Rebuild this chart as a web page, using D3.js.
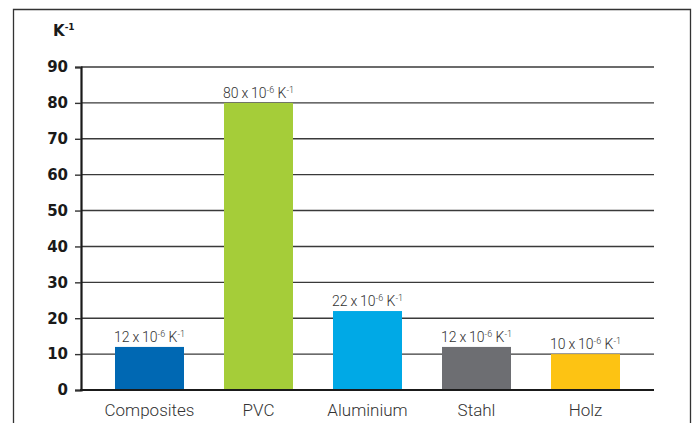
<!DOCTYPE html>
<html>
<head>
<meta charset="utf-8">
<script src="https://cdn.jsdelivr.net/npm/d3@7/dist/d3.min.js"></script>
<style>
  html, body { margin: 0; padding: 0; background: #fff; }
  svg { display: block; }
</style>
</head>
<body>
<svg id="chart" width="696" height="423"></svg>
<script>
// Thermal expansion coefficients (x 10^-6 K^-1)
const categories = ["Composites", "PVC", "Aluminium", "Stahl", "Holz"];
const values = [12, 80, 22, 12, 10];
const barColors = ["#0068b3", "#a5cd39", "#00a9e6", "#6d6e72", "#fdc313"];
const yTicks = [0, 10, 20, 30, 40, 50, 60, 70, 80, 90];

const svg = d3.select("#chart");

// outer frame
svg.append("path")
  .attr("d", "M13.5,430 L13.5,9.5 L690.5,9.5 L690.5,430")
  .attr("fill", "none")
  .attr("stroke", "#333")
  .attr("stroke-width", 1.3);

const y = d3.scaleLinear().domain([0, 90]).range([390, 67]);
const x = d3.scaleBand().domain(categories).range([95, 640])
  .paddingInner(0.367).paddingOuter(0.1835);

const axisLeft = 81, gridRight = 654;

// horizontal grid lines
svg.append("g").selectAll("line")
  .data(yTicks.filter(d => d > 0))
  .join("line")
  .attr("x1", axisLeft).attr("x2", gridRight)
  .attr("y1", d => y(d)).attr("y2", d => y(d))
  .attr("stroke", "#3a3a3a").attr("stroke-width", 1.4);

// y axis with outward ticks
const yAxis = d3.axisLeft(y).tickValues(yTicks).tickSize(6).tickPadding(7);
const gy = svg.append("g").attr("transform", `translate(${axisLeft},0)`).call(yAxis);
gy.select(".domain").attr("stroke", "#1a1a1a").attr("stroke-width", 2.2);
gy.selectAll(".tick line").attr("stroke", "#333").attr("stroke-width", 1.4);
gy.selectAll(".tick text")
  .attr("font-family", "DejaVu Sans, Verdana, sans-serif")
  .attr("font-weight", "bold")
  .attr("font-size", 15)
  .attr("fill", "#1a1a1a");

// bars
svg.append("g").selectAll("rect")
  .data(values)
  .join("rect")
  .attr("x", (d, i) => x(categories[i]))
  .attr("y", d => y(d))
  .attr("width", x.bandwidth())
  .attr("height", d => y(0) - y(d))
  .attr("fill", (d, i) => barColors[i]);

// baseline
svg.append("line")
  .attr("x1", axisLeft - 1).attr("x2", gridRight)
  .attr("y1", y(0)).attr("y2", y(0))
  .attr("stroke", "#1a1a1a").attr("stroke-width", 2.2);

const lightFont = "Roboto, 'Liberation Sans', sans-serif";

// value labels
const lbl = svg.append("g").selectAll("text")
  .data(values)
  .join("text")
  .attr("x", (d, i) => x(categories[i]) + x.bandwidth() / 2)
  .attr("y", d => y(d) - 5)
  .attr("text-anchor", "middle")
  .attr("font-family", lightFont)
  .attr("font-weight", 300)
  .attr("font-size", 14)
  .attr("fill", "#333");
lbl.append("tspan").text(d => d + "\u2009x\u200910");
lbl.append("tspan").attr("dy", -5).attr("font-size", 9).text("-6");
lbl.append("tspan").attr("dy", 5).text(" K");
lbl.append("tspan").attr("dy", -5).attr("font-size", 9).text("-1");

// category labels
svg.append("g").selectAll("text")
  .data(categories)
  .join("text")
  .attr("x", d => x(d) + x.bandwidth() / 2)
  .attr("y", 416)
  .attr("text-anchor", "middle")
  .attr("font-family", lightFont)
  .attr("font-weight", 300)
  .attr("font-size", 17)
  .attr("fill", "#333")
  .text(d => d);

// unit label
const unit = svg.append("text")
  .attr("x", 53).attr("y", 36)
  .attr("font-family", "DejaVu Sans, Verdana, sans-serif")
  .attr("font-weight", "bold")
  .attr("font-size", 15)
  .attr("fill", "#1a1a1a");
unit.append("tspan").text("K");
unit.append("tspan").attr("dy", -6).attr("font-size", 9).text("-1");
</script>
</body>
</html>
